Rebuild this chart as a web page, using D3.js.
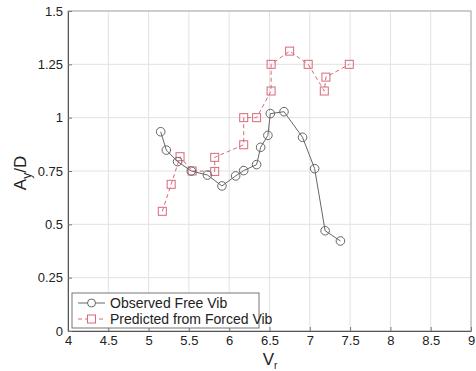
<!DOCTYPE html>
<html>
<head>
<meta charset="utf-8">
<script src="https://cdn.jsdelivr.net/npm/d3@7"></script>
<style>
body { margin: 0; background: #fff; }
text { font-family: "Liberation Sans", Arial, sans-serif; }
</style>
</head>
<body>
<div id="container" style="width:476px;height:371px"></div>
<script>
var margin = { top: 11, right: 5, bottom: 40, left: 68 };

var width = 476 - margin.left - margin.right,
	height = 371 - margin.top - margin.bottom;

// observed free vibration
var freeX = [5.15, 5.22, 5.36, 5.53, 5.73, 5.91, 6.08, 6.18, 6.34, 6.39, 6.48, 6.51, 6.68, 6.91, 7.06, 7.19, 7.38];
var freeY = [0.934, 0.848, 0.794, 0.75, 0.731, 0.68, 0.727, 0.752, 0.78, 0.861, 0.917, 1.019, 1.028, 0.908, 0.761, 0.47, 0.422];

// predicted from forced vibration
var forcedX = [5.17, 5.28, 5.39, 5.54, 5.82, 5.82, 6.18, 6.18, 6.34, 6.52, 6.52, 6.75, 6.98, 7.18, 7.2, 7.49];
var forcedY = [0.561, 0.6875, 0.817, 0.75, 0.748, 0.814, 0.873, 1.0, 1.0, 1.125, 1.25, 1.312, 1.25, 1.125, 1.19, 1.25];

var xTicks = [4, 4.5, 5, 5.5, 6, 6.5, 7, 7.5, 8, 8.5, 9];
var yTicks = [0, 0.25, 0.5, 0.75, 1, 1.25, 1.5];
var legendLabels = ['Observed Free Vib', 'Predicted from Forced Vib'];

var svg = d3.select('#container').append('svg')
	.attr('width', 476)
	.attr('height', 371);

var g = svg.append('g')
	.attr('transform', 'translate(' + margin.left + ',' + margin.top + ')');

var x = d3.scaleLinear().domain([4, 9]).range([0, width]);
var y = d3.scaleLinear().domain([0, 1.5]).range([height, 0]);

// grid
g.selectAll('.vgrid').data(xTicks).enter().append('line')
	.attr('x1', d => x(d)).attr('x2', d => x(d))
	.attr('y1', 0).attr('y2', height)
	.attr('stroke', '#e2e2e2').attr('stroke-width', 1);
g.selectAll('.hgrid').data(yTicks).enter().append('line')
	.attr('x1', 0).attr('x2', width)
	.attr('y1', d => y(d)).attr('y2', d => y(d))
	.attr('stroke', '#e2e2e2').attr('stroke-width', 1);

// box
g.append('rect')
	.attr('x', 0).attr('y', 0)
	.attr('width', width).attr('height', height)
	.attr('fill', 'none')
	.attr('stroke', '#aaa');

var xAxis = g.append('g')
	.attr('transform', 'translate(0,' + height + ')')
	.call(d3.axisBottom(x).tickValues(xTicks).tickSize(-4).tickSizeOuter(0).tickPadding(5).tickFormat(d3.format('')));
var yAxis = g.append('g')
	.call(d3.axisLeft(y).tickValues(yTicks).tickSize(-4).tickSizeOuter(0).tickPadding(5).tickFormat(d3.format('')));

[xAxis, yAxis].forEach(function (a) {
	a.select('.domain').attr('stroke', '#555');
	a.selectAll('.tick line').attr('stroke', '#777');
	a.selectAll('.tick text').attr('font-size', 13).attr('fill', '#222')
		.attr('font-family', '"Liberation Sans", Arial, sans-serif');
});

// series
var free = freeX.map((d, i) => [d, freeY[i]]);
var forced = forcedX.map((d, i) => [d, forcedY[i]]);

var line = d3.line().x(d => x(d[0])).y(d => y(d[1]));

g.append('path').datum(forced)
	.attr('d', line)
	.attr('fill', 'none')
	.attr('stroke', '#d9687a')
	.attr('stroke-width', 1)
	.attr('stroke-dasharray', '4,3');

g.selectAll('.sq').data(forced).enter().append('rect')
	.attr('x', d => x(d[0]) - 4).attr('y', d => y(d[1]) - 4)
	.attr('width', 8).attr('height', 8)
	.attr('fill', 'none')
	.attr('stroke', '#d9687a');

g.append('path').datum(free)
	.attr('d', line)
	.attr('fill', 'none')
	.attr('stroke', '#666')
	.attr('stroke-width', 1);

g.selectAll('.circ').data(free).enter().append('circle')
	.attr('cx', d => x(d[0])).attr('cy', d => y(d[1]))
	.attr('r', 4.3)
	.attr('fill', 'none')
	.attr('stroke', '#666');

// legend
var lg = g.append('g').attr('transform', 'translate(4,' + (height - 38) + ')');
lg.append('rect')
	.attr('width', 187).attr('height', 35)
	.attr('fill', '#fff')
	.attr('stroke', '#777');

legendLabels.forEach(function (t, i) {
	var ly = 10 + i * 16;
	lg.append('line')
		.attr('x1', 6).attr('x2', 33)
		.attr('y1', ly).attr('y2', ly)
		.attr('stroke', i ? '#d9687a' : '#666')
		.attr('stroke-dasharray', i ? '4,3' : null);
	if (i) {
		lg.append('rect').attr('x', 15.5).attr('y', ly - 4).attr('width', 8).attr('height', 8)
			.attr('fill', '#fff').attr('stroke', '#d9687a');
	} else {
		lg.append('circle').attr('cx', 19.5).attr('cy', ly).attr('r', 4)
			.attr('fill', '#fff').attr('stroke', '#666');
	}
	lg.append('text')
		.attr('x', 38).attr('y', ly + 5)
		.attr('font-size', 14)
		.attr('fill', '#222')
		.text(t);
});

// axis labels
var yl = svg.append('text')
	.attr('transform', 'translate(26,' + 173 + ') rotate(-90)')
	.attr('text-anchor', 'middle')
	.attr('font-size', 17)
	.attr('fill', '#222');
yl.append('tspan').text('A');
yl.append('tspan').attr('font-size', 12).attr('dy', 5).text('y');
yl.append('tspan').attr('dy', -5).text('/D');

var xl = svg.append('text')
	.attr('x', 270).attr('y', 365)
	.attr('text-anchor', 'middle')
	.attr('font-size', 17)
	.attr('fill', '#222');
xl.append('tspan').text('V');
xl.append('tspan').attr('font-size', 10).attr('dy', 4).text('r');
</script>
</body>
</html>
